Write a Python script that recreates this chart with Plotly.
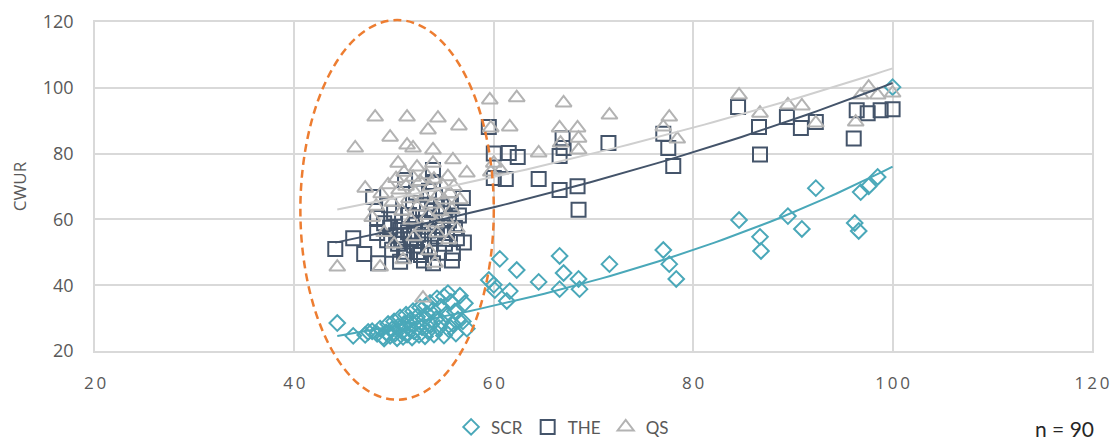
import numpy as np
import plotly.graph_objects as go

# ---------------- data ----------------
scr_x = [59.5, 60.0, 60.1, 60.6, 61.6, 61.3, 62.3, 64.5, 66.6, 67.0, 66.6, 68.5, 68.6, 71.6, 77.0,
         77.6, 78.3, 84.6, 86.7, 86.8, 89.5, 90.9, 92.3, 96.2, 96.6, 96.8, 97.6, 98.5, 100.0,
         44.3, 45.9, 47.1, 47.8, 48.3, 48.6, 48.9, 49.2, 49.4, 49.6, 49.8, 50.0, 50.1, 50.3, 50.4,
         50.6, 50.8, 50.9, 51.0, 51.2, 51.3, 51.5, 51.6, 51.8, 51.9, 52.0, 52.2, 52.3, 52.5, 52.6,
         52.8, 53.0, 53.1, 53.3, 53.4, 53.6, 53.7, 53.9, 54.0, 54.2, 54.3, 54.5, 54.7, 54.8, 55.0,
         55.2, 55.4, 55.5, 55.7, 55.9, 56.1, 56.2, 56.4, 56.6, 56.9, 57.1, 57.3, 55.0, 53.2, 49.0, 47.4]
scr_y = [41.6, 40.1, 38.5, 48.0, 38.2, 35.2, 44.6, 41.0, 48.9, 43.7, 38.8, 41.9, 38.8, 46.4, 50.7,
         46.4, 41.9, 59.8, 54.7, 50.4, 61.0, 57.1, 69.5, 58.9, 56.5, 68.3, 70.1, 72.9, 100.2,
         28.5, 24.6, 24.9, 26.0, 25.2, 26.8, 24.3, 25.6, 28.2, 24.6, 26.6, 29.0, 25.3, 23.9, 27.4,
         30.2, 25.9, 24.3, 28.2, 31.0, 25.0, 26.8, 29.3, 24.1, 32.1, 26.0, 28.5, 30.4, 24.9, 33.2,
         27.2, 29.5, 24.5, 31.3, 26.0, 34.6, 28.0, 32.4, 25.0, 29.7, 36.0, 27.0, 33.5, 28.8, 24.7,
         31.1, 37.6, 26.5, 34.9, 28.2, 32.0, 25.3, 29.6, 36.8, 29.0, 34.5, 26.8, 36.6, 33.8, 23.8, 25.8]

the_x = [59.5, 60.0, 61.5, 62.4, 60.0, 61.2, 64.5, 66.6, 68.4, 68.5, 66.9, 67.0, 66.6, 71.5, 77.0,
         77.5, 78.0, 84.5, 86.6, 86.7, 89.4, 90.8, 92.3, 96.1, 96.4, 97.5, 98.8, 100.0,
         44.1, 45.9, 47.0, 47.9, 48.3, 48.3, 48.4, 49.3, 49.6, 49.8, 50.0, 50.2, 50.4, 50.6, 50.6,
         50.8, 50.9, 51.1, 51.2, 51.4, 51.5, 51.7, 51.9, 52.0, 52.1, 52.3, 52.4, 52.6, 52.7, 52.9,
         53.0, 53.2, 53.4, 53.5, 53.6, 53.8, 53.9, 53.9, 53.9, 54.1, 54.1, 54.3, 54.5, 54.7, 54.9,
         54.9, 55.1, 55.3, 55.5, 55.7, 55.9, 55.8, 56.1, 56.3, 56.5, 56.9, 57.0, 49.0, 49.5, 51.0,
         52.2, 53.0]
the_y = [88.1, 80.0, 80.2, 79.0, 72.6, 72.3, 72.3, 68.9, 70.1, 62.9, 84.7, 81.7, 79.3, 83.2, 86.0,
         81.7, 76.2, 94.2, 88.1, 79.7, 91.1, 87.8, 89.6, 84.6, 93.2, 92.3, 93.2, 93.5,
         51.0, 54.3, 49.5, 66.8, 60.4, 55.9, 46.7, 53.7, 57.5, 50.8, 62.0, 55.2, 52.6, 56.8, 47.1,
         59.3, 53.9, 72.0, 50.2, 56.1, 61.3, 54.0, 65.0, 52.1, 58.4, 50.1, 55.3, 63.2, 49.2, 58.9,
         53.5, 60.6, 56.6, 68.7, 51.4, 62.8, 75.0, 71.4, 46.7, 66.8, 54.8, 58.0, 49.9, 63.9, 61.9,
         56.8, 52.6, 55.9, 59.7, 64.6, 49.8, 47.5, 57.4, 54.3, 61.2, 66.5, 53.0, 58.8, 64.3, 49.0,
         68.2, 47.5]

qs_x = [59.6, 62.3, 59.7, 61.6, 60.0, 60.7, 59.7, 64.5, 67.0, 66.6, 68.4, 68.5, 68.5, 66.7, 71.6,
        77.6, 77.0, 78.4, 84.6, 86.7, 89.5, 90.9, 92.3, 96.3, 96.8, 97.6, 98.5, 100.0,
        44.3, 48.6, 52.9, 54.1, 50.9, 48.1, 51.3, 54.4, 56.5, 46.1, 49.6, 53.4, 51.3, 51.9, 53.9,
        50.4, 53.9, 55.9, 47.1, 52.3, 57.3, 54.3, 48.7, 49.4, 49.8, 50.2, 50.5, 50.8, 51.0, 51.2,
        51.5, 51.7, 51.9, 52.1, 52.3, 52.6, 52.8, 53.0, 53.2, 53.4, 53.6, 53.8, 54.0, 54.2, 54.4,
        54.6, 54.8, 55.0, 55.2, 55.4, 55.6, 55.8, 56.0, 56.3, 49.0, 50.0, 47.8, 48.2, 53.5, 55.5,
        52.0, 56.6]
qs_y = [96.3, 97.0, 87.8, 88.1, 77.1, 75.0, 74.4, 80.2, 95.4, 87.8, 87.8, 84.7, 81.1, 83.2, 91.7,
        91.1, 88.1, 84.4, 97.8, 92.3, 94.8, 94.5, 89.3, 89.6, 97.8, 100.2, 97.8, 98.4,
        45.5, 45.5, 36.1, 46.7, 47.7, 91.1, 91.1, 90.8, 88.4, 81.7, 85.0, 87.2, 82.6, 81.7, 81.1,
        77.1, 77.1, 78.1, 69.5, 75.9, 74.1, 55.9, 67.8, 70.5, 65.2, 72.4, 68.9, 62.5, 74.3, 70.1,
        66.3, 59.8, 72.8, 68.1, 63.8, 71.5, 57.6, 66.9, 73.6, 61.2, 69.8, 64.7, 72.2, 58.9, 67.4,
        62.3, 70.6, 65.9, 60.1, 73.0, 67.9, 63.0, 70.0, 57.2, 56.0, 52.5, 60.6, 64.0, 50.5, 53.8,
        54.7, 66.0]

series_names = ["SCR", "THE", "QS"]
x_ticks = [20, 40, 60, 80, 100, 120]
y_ticks = [20, 40, 60, 80, 100, 120]
x_range = [20, 120]
y_range = [20, 120]
y_title = "CWUR"
n_label = "n = 90"

# highlighted region (ellipse) in data units: centre and half-axes
ell_cx, ell_cy, ell_rx, ell_ry = 50.3, 62.9, 9.7, 57.7

# ---------------- styles ----------------
marker_cols = {"SCR": "#4aa8b9", "THE": "#44546a", "QS": "#b3b3b3"}
line_cols = {"SCR": "#4aa8b9", "THE": "#44546a", "QS": "#cfcfcf"}
symbols = {"SCR": "diamond-open", "THE": "square-open", "QS": "triangle-up-open"}
sizes = {"SCR": 12, "THE": 14, "QS": 14}

data = {"SCR": (scr_x, scr_y), "THE": (the_x, the_y), "QS": (qs_x, qs_y)}

fig = go.Figure()
for name in series_names:
    xs, ys = data[name]
    fig.add_trace(go.Scatter(
        x=xs, y=ys, mode="markers", name=name,
        marker=dict(symbol=symbols[name], size=sizes[name], color=marker_cols[name],
                    line=dict(width=2, color=marker_cols[name])),
        cliponaxis=False,
    ))

# exponential trend lines (fit ln(y) = a + b x, as Excel does)
for name in series_names:
    xs, ys = np.array(data[name][0]), np.array(data[name][1])
    b, a = np.polyfit(xs, np.log(ys), 1)
    tx = np.linspace(xs.min(), xs.max(), 60)
    fig.add_trace(go.Scatter(
        x=tx, y=np.exp(a + b * tx), mode="lines", showlegend=False, hoverinfo="skip",
        line=dict(color=line_cols[name], width=2),
    ))

# ellipse, converted from data units to paper units so it is not clipped
def to_px(v):
    return (v - x_range[0]) / (x_range[1] - x_range[0])

def to_py(v):
    return (v - y_range[0]) / (y_range[1] - y_range[0])

fig.add_shape(type="circle", xref="paper", yref="paper",
              x0=to_px(ell_cx - ell_rx), x1=to_px(ell_cx + ell_rx),
              y0=to_py(ell_cy - ell_ry), y1=to_py(ell_cy + ell_ry),
              line=dict(color="#ed7d31", width=2.5, dash="8px,5px"), layer="above")

fig.add_annotation(text=n_label, xref="paper", yref="paper", x=0.972, y=-0.236,
                   xanchor="center", yanchor="middle",
                   showarrow=False, font=dict(family="Lato", size=21, color="#262626"))

grid = "#d9d9d9"
tick_font = dict(family="Open Sans", size=17, color="#595959")
fig.update_xaxes(range=x_range, tickvals=x_ticks,
                 ticktext=["\u2009".join(str(t)) for t in x_ticks],
                 showgrid=True, gridcolor=grid, gridwidth=1.5, zeroline=False,
                 showline=True, linecolor=grid, linewidth=1.5, mirror=True,
                 ticks="outside", ticklen=16, tickcolor="rgba(0,0,0,0)",
                 tickfont=tick_font)
fig.update_yaxes(range=y_range, tickvals=y_ticks,
                 showgrid=True, gridcolor=grid, gridwidth=1.5, zeroline=False,
                 showline=True, linecolor=grid, linewidth=1.5, mirror=True,
                 ticks="outside", ticklen=16, tickcolor="rgba(0,0,0,0)",
                 tickfont=dict(family="Open Sans", size=18, color="#595959"),
                 title=dict(text=y_title, font=dict(family="Open Sans", size=17, color="#595959"),
                            standoff=12))

fig.update_layout(
    width=1115, height=440,
    margin=dict(l=95, r=23, t=22, b=89, autoexpand=False),
    plot_bgcolor="white", paper_bgcolor="white",
    legend=dict(orientation="h", x=0.469, xanchor="center", y=-0.232, yanchor="middle",
                font=dict(family="Lato", size=17, color="#595959"),
                itemwidth=30, tracegroupgap=0, bgcolor="rgba(0,0,0,0)"),
    showlegend=True,
)

fig.write_html("out.html")
